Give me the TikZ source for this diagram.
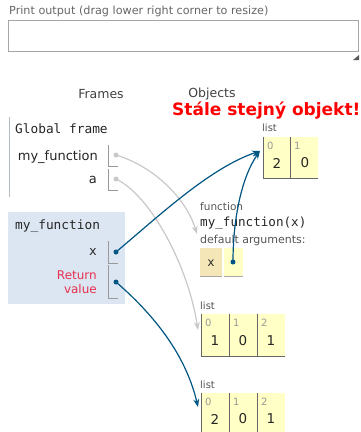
\documentclass[tikz,border=0pt]{standalone}
\usepackage{fontspec}
\setmainfont{DejaVu Sans}
\setmonofont{DejaVu Sans Mono}
\usetikzlibrary{arrows.meta}
\definecolor{framebg}{HTML}{DCE6F2}
\definecolor{listbg}{HTML}{FFFFC6}
\definecolor{keybg}{HTML}{F5E6B8}
\definecolor{ptblue}{HTML}{005583}
\definecolor{ptgrey}{HTML}{C8C8C8}
\definecolor{retred}{HTML}{E8304F}
\definecolor{txtgrey}{HTML}{555555}
\tikzset{
  lbl/.style={inner sep=0pt, font=\fontsize{10}{12}\selectfont, text=txtgrey},
  hdr/.style={inner sep=0pt, font=\fontsize{12.5}{14}\selectfont, text=black!75},
  mono/.style={inner sep=0pt, font=\ttfamily\fontsize{12.8}{14}\selectfont, text=black!85},
  varname/.style={inner sep=0pt, font=\fontsize{13}{15}\selectfont, text=black!85},
  idx/.style={inner sep=0pt, font=\fontsize{10}{11}\selectfont, text=black!40},
  val/.style={inner sep=0pt, font=\fontsize{13.5}{15}\selectfont, text=black!85},
  bracket/.style={draw=black!40, line width=0.8pt},
  ptr/.style={circle, fill=ptblue, inner sep=0pt, minimum size=5pt},
  gptr/.style={circle, fill=ptgrey, inner sep=0pt, minimum size=5pt},
  blarrow/.style={draw=ptblue, line width=1.2pt, -{Stealth[length=8pt,width=6pt]}},
  grarrow/.style={draw=ptgrey, line width=1.2pt, -{Stealth[length=8pt,width=6pt]}},
}
\begin{document}
\begin{tikzpicture}[x=1pt,y=-1pt]
\useasboundingbox (0,0) rectangle (360,432);
% print output
\node[lbl, anchor=west, font=\fontsize{11.2}{13}\selectfont, text=black!60] (ptitle) at (9,11) {Print output (drag lower right corner to resize)};
\draw[black!35, line width=0.8pt] (8,20) rectangle (358,51);
\fill[black!65] (359,55) -- (359,60) -- (353,60) -- cycle;
% headers
\node[hdr] (frames) at (101,94) {Frames};
\node[hdr] (objects) at (212,94) {Objects};
\node[inner sep=0pt, text=red, font=\bfseries\fontsize{17}{19}\selectfont, anchor=west] (stale) at (172,111) {Stále stejný objekt!};
% global frame
\draw[draw=black!30!cyan!20!gray!60, line width=1pt] (9,117) -- (9,197);
\node[mono, anchor=west] (gf) at (15,129) {Global frame};
\node[varname, anchor=east] (gmf) at (98,157) {my\_function};
\node[varname, anchor=east] (ga) at (97,180) {a};
\draw[bracket] (108,145) -- (108,166) -- (118,166);
\draw[bracket] (108,169) -- (108,190) -- (118,190);
\node[gptr] (dmf) at (116,155) {};
\node[gptr] (da) at (116,179) {};
% function frame
\fill[framebg] (8,212) rectangle (125,304);
\node[mono, anchor=west] (ff) at (15,226) {my\_function};
\node[mono, anchor=east] (fx) at (97,252) {x};
\node[varname, anchor=east, text=retred, align=right, font=\fontsize{12}{14}\selectfont] (fret) at (97,282) {Return\\value};
\draw[bracket] (108,241) -- (108,263) -- (118,263);
\draw[bracket] (108,265) -- (108,298) -- (118,298);
\node[ptr] (dx) at (116,252) {};
\node[ptr] (dret) at (116,282) {};
% list 1
\node[lbl, anchor=west] (l1lbl) at (262,128) {list};
\fill[listbg] (263,137) rectangle (318,178);
\draw[black!60, line width=1pt] (263,137) -- (263,178) -- (318,178);
\draw[black!60, line width=0.8pt] (290,137) -- (290,178);
\node[idx, anchor=west] (l1i0) at (267,146) {0};
\node[idx, anchor=west] (l1i1) at (294,146) {1};
\node[val] (l1v0) at (277,163) {2};
\node[val] (l1v1) at (305,163) {0};
\coordinate (l1in) at (260,151);
% function object
\node[lbl, anchor=west, font=\fontsize{10.5}{12}\selectfont] (fnlbl) at (200,207) {function};
\node[mono, anchor=west, font=\ttfamily\fontsize{12.6}{14}\selectfont] (fnname) at (200,223) {my\_function(x)};
\node[lbl, anchor=west, font=\fontsize{11}{12}\selectfont] (fndef) at (200,240) {default arguments:};
\fill[keybg] (200,248) rectangle (222,276);
\fill[listbg] (224,248) rectangle (243,276);
\draw[black!35, line width=1pt] (200,276) -- (222,276) (224,276) -- (243,276);
\node[mono, font=\ttfamily\fontsize{12}{13}\selectfont] (fnkx) at (211,263) {x};
\node[ptr] (dfx) at (233,262) {};
\coordinate (fnin) at (197,234);
% list 2
\node[lbl, anchor=west] (l2lbl) at (200,306) {list};
\fill[listbg] (201,314) rectangle (285,356);
\draw[black!60, line width=1pt] (201,314) -- (201,356) -- (285,356);
\draw[black!60, line width=0.8pt] (229,314) -- (229,356) (257,314) -- (257,356);
\node[idx, anchor=west] (l2i0) at (205,323) {0};
\node[idx, anchor=west] (l2i1) at (233,323) {1};
\node[idx, anchor=west] (l2i2) at (261,323) {2};
\node[val] (l2v0) at (215,341) {1};
\node[val] (l2v1) at (243,341) {0};
\node[val] (l2v2) at (271,341) {1};
\coordinate (l2in) at (198,330);
% list 3
\node[lbl, anchor=west] (l3lbl) at (200,385) {list};
\fill[listbg] (201,393) rectangle (285,433);
\draw[black!60, line width=1pt] (201,393) -- (201,433);
\draw[black!60, line width=0.8pt] (229,393) -- (229,433) (257,393) -- (257,433);
\node[idx, anchor=west] (l3i0) at (205,402) {0};
\node[idx, anchor=west] (l3i1) at (233,402) {1};
\node[idx, anchor=west] (l3i2) at (261,402) {2};
\node[val] (l3v0) at (215,419) {2};
\node[val] (l3v1) at (243,419) {0};
\node[val] (l3v2) at (271,419) {1};
\coordinate (l3in) at (198,407);
% arrows
\draw[grarrow] (dmf.center) .. controls (150,165) and (185,195) .. (fnin);
\draw[grarrow] (da.center) .. controls (150,195) and (188,265) .. (l2in);
\draw[blarrow] (dx.center) .. controls (160,215) and (210,168) .. (l1in);
\draw[blarrow] (dfx.center) .. controls (233,215) and (243,175) .. (l1in);
\draw[blarrow] (dret.center) .. controls (160,320) and (187,360) .. (l3in);
\end{tikzpicture}
\end{document}
